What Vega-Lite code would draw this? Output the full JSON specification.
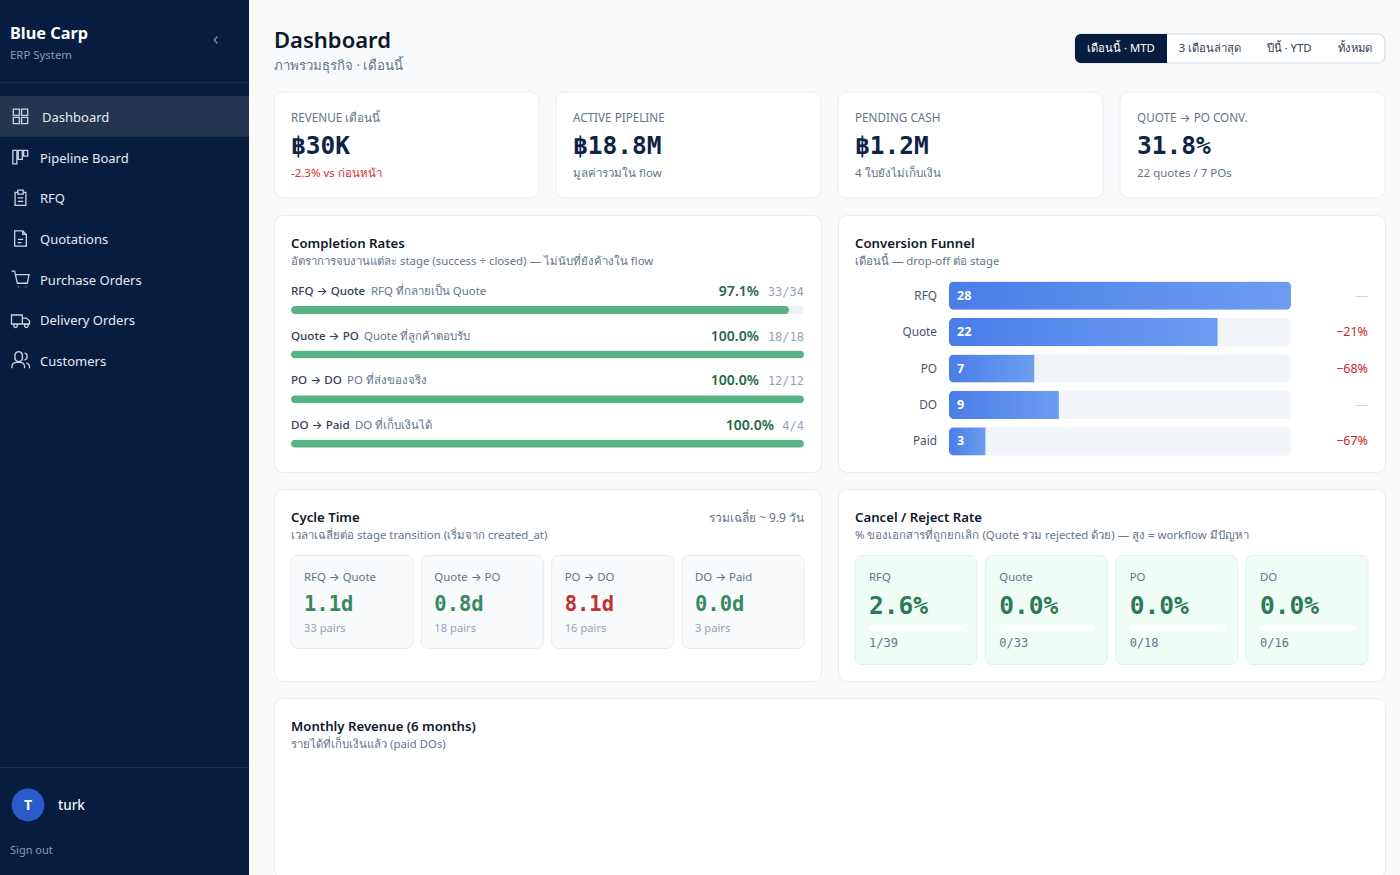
{"$schema":"https://vega.github.io/schema/vega-lite/v6.json","background":"#f8fafc","padding":{"left":0,"top":0,"right":15,"bottom":0},"spacing":24,"resolve":{"scale":{"color":"independent","shape":"independent"}},"config":{"view":{"fill":"#ffffff","stroke":"#e8ecf2","cornerRadius":9,"strokeWidth":1},"text":{"font":"Noto Sans, Inter","baseline":"middle"},"title":{"font":"Noto Sans, Inter","fontSize":13.2,"fontWeight":600,"color":"#0f172a","anchor":"start","frame":"group","subtitleFont":"Noto Sans, Inter","subtitleFontSize":11.4,"subtitleColor":"#64748b","subtitlePadding":4,"dx":17,"offset":-53}},"hconcat":[{"spacing":0,"resolve":{"scale":{"color":"independent","shape":"independent"}},"vconcat":[{"width":249,"height":83,"view":{"fill":"#061d40","stroke":null,"cornerRadius":0},"title":{"text":"Blue Carp","subtitle":"ERP System","fontSize":16.3,"fontWeight":700,"color":"#ffffff","subtitleFontSize":11.4,"subtitleColor":"#8a9ab3","subtitlePadding":7,"dx":10,"offset":-61},"data":{"values":[{"control":"collapse"}]},"layer":[{"mark":{"type":"bar","fill":"#1a3052"},"encoding":{"y":{"field":"control","type":"nominal","axis":null,"scale":{"range":[82,83],"paddingInner":0,"paddingOuter":0}}}},{"mark":{"type":"point","shape":"M0.4 -1 L-0.5 0 L0.4 1","filled":false,"stroke":"#a9b6c9","strokeWidth":1.4,"size":50,"xOffset":91.5,"yOffset":-1.5}}]},{"width":249,"height":685,"view":{"fill":"#061d40","stroke":null,"cornerRadius":0},"data":{"values":[{"item":"Dashboard"},{"item":"Pipeline Board"},{"item":"RFQ"},{"item":"Quotations"},{"item":"Purchase Orders"},{"item":"Delivery Orders"},{"item":"Customers"}]},"encoding":{"y":{"field":"item","type":"nominal","axis":null,"scale":{"domain":["Dashboard","Pipeline Board","RFQ","Quotations","Purchase Orders","Delivery Orders","Customers"],"range":[13,298],"paddingInner":0,"paddingOuter":0}}},"resolve":{"scale":{"y":"independent"}},"layer":[{"transform":[{"filter":{"field":"item","equal":"Dashboard"}}],"mark":{"type":"bar","fill":"#22344f"}},{"transform":[{"filter":{"field":"item","equal":"Dashboard"}}],"mark":{"type":"text","align":"left","dx":-82.5,"dy":1.5,"fontSize":13,"color":"#e6ebf3"},"encoding":{"text":{"field":"item"}}},{"transform":[{"filter":{"field":"item","oneOf":["Pipeline Board","RFQ","Quotations","Purchase Orders","Delivery Orders","Customers"]}}],"mark":{"type":"text","align":"left","dx":-84.5,"dy":1.5,"fontSize":13,"color":"#e6ebf3"},"encoding":{"text":{"field":"item"}}},{"mark":{"type":"point","filled":false,"stroke":"#c9d3e0","strokeWidth":1.3,"opacity":1,"size":324,"xOffset":-104},"encoding":{"shape":{"field":"item","type":"nominal","legend":null,"scale":{"domain":["Dashboard","Pipeline Board","RFQ","Quotations","Purchase Orders","Delivery Orders","Customers"],"range":["M-0.8 -0.8 H-0.12 V-0.12 H-0.8 Z M0.12 -0.8 H0.8 V-0.12 H0.12 Z M-0.8 0.12 H-0.12 V0.8 H-0.8 Z M0.12 0.12 H0.8 V0.8 H0.12 Z","M-0.85 -0.75 H-0.4 V0.75 H-0.85 Z M-0.25 -0.75 H0.2 V0.25 H-0.25 Z M0.35 -0.75 H0.8 V-0.1 H0.35 Z","M-0.3 -0.6 H-0.6 V0.85 H0.6 V-0.6 H0.3 M-0.3 -0.85 H0.3 V-0.4 H-0.3 Z M-0.3 0 H0.3 M-0.3 0.4 H0.3","M-0.65 -0.85 H0.25 L0.65 -0.45 V0.85 H-0.65 Z M0.25 -0.85 V-0.45 H0.65 M-0.3 0.1 H0.3 M-0.3 0.45 H0.1","M-1 -0.9 H-0.65 L-0.35 0.45 H0.75 L0.95 -0.5 H-0.55 M-0.3 0.85 L-0.2 0.85 M0.55 0.85 L0.65 0.85","M-1 -0.55 H0.2 V0.45 H-1 Z M0.2 -0.2 H0.65 L1 0.1 V0.45 H0.2 M-0.75 0.65 A0.2 0.2 0 1 0 -0.35 0.65 A0.2 0.2 0 1 0 -0.75 0.65 Z M0.45 0.65 A0.2 0.2 0 1 0 0.85 0.65 A0.2 0.2 0 1 0 0.45 0.65 Z","M-0.95 0.85 V0.6 A0.5 0.5 0 0 1 -0.45 0.2 H0 A0.5 0.5 0 0 1 0.45 0.6 V0.85 M-0.6 -0.45 A0.42 0.42 0 1 0 0.2 -0.45 A0.42 0.42 0 1 0 -0.6 -0.45 Z M0.45 -0.85 A0.42 0.42 0 0 1 0.45 -0.05 M0.65 0.25 A0.5 0.5 0 0 1 1 0.6 V0.85"]}}}},{"transform":[{"filter":{"field":"item","equal":"Dashboard"}}],"mark":{"type":"bar","fill":"#1a3052"},"encoding":{"y":{"field":"item","type":"nominal","axis":null,"scale":{"domain":["Dashboard"],"range":[684,685],"paddingInner":0,"paddingOuter":0}}}}]},{"width":249,"height":107,"view":{"fill":"#061d40","stroke":null,"cornerRadius":0},"data":{"values":[{"user":"turk","initial":"T","action":"Sign out"}]},"encoding":{"x":{"field":"user","type":"nominal","axis":null,"scale":{"range":[10,46],"paddingInner":0,"paddingOuter":0}},"y":{"field":"user","type":"nominal","axis":null,"scale":{"range":[19,55],"paddingInner":0,"paddingOuter":0}}},"layer":[{"mark":{"type":"circle","fill":"#2a5bc9","opacity":1,"size":1075}},{"mark":{"type":"text","fontSize":14,"fontWeight":700,"dy":1,"color":"#ffffff"},"encoding":{"text":{"field":"initial"}}},{"mark":{"type":"text","align":"left","dx":30,"dy":1,"fontSize":13.5,"fontWeight":500,"color":"#f1f5f9"},"encoding":{"text":{"field":"user"}}},{"mark":{"type":"text","align":"left","dx":-18,"dy":46,"fontSize":11,"color":"#8a9ab3"},"encoding":{"text":{"field":"action"}}}]}]},{"spacing":15,"resolve":{"scale":{"color":"independent","shape":"independent"}},"vconcat":[{"width":1111,"height":76,"view":{"fill":null,"stroke":null},"title":{"text":"Dashboard","subtitle":"ภาพรวมธุรกิจ · เดือนนี้","fontSize":22,"fontWeight":600,"subtitleFontSize":13.2,"subtitlePadding":7,"dx":0,"offset":-73},"data":{"values":[{"tab":"เดือนนี้ · MTD","slot":0,"mid":0.5,"end":1,"state":"active","group":"period"},{"tab":"3 เดือนล่าสุด","slot":1,"mid":1.5,"end":2,"state":"idle","group":"period"},{"tab":"ปีนี้ · YTD","slot":2,"mid":2.5,"end":3,"state":"idle","group":"period"},{"tab":"ทั้งหมด","slot":3,"mid":3.5,"end":4,"state":"idle","group":"period"}]},"encoding":{"y":{"field":"group","type":"nominal","axis":null,"scale":{"range":[34,63],"paddingInner":0,"paddingOuter":0}}},"layer":[{"transform":[{"filter":{"field":"state","equal":"active"}}],"mark":{"type":"bar","fill":"#ffffff","stroke":"#d5dce6","strokeWidth":1.2,"cornerRadius":7},"encoding":{"x":{"datum":0,"type":"quantitative","axis":null,"scale":{"domain":[0,1,2,3,4],"range":[801,893,979,1051,1111]}},"x2":{"datum":4}}},{"transform":[{"filter":{"field":"state","equal":"active"}}],"mark":{"type":"bar","fill":"#061d40","cornerRadiusTopLeft":6,"cornerRadiusBottomLeft":6},"encoding":{"x":{"field":"slot","type":"quantitative","axis":null},"x2":{"field":"end"}}},{"mark":{"type":"text","fontSize":11.3},"encoding":{"x":{"field":"mid","type":"quantitative","axis":null},"text":{"field":"tab"},"color":{"field":"state","type":"nominal","legend":null,"scale":{"domain":["active","idle"],"range":["#ffffff","#334155"]}}}}]},{"width":1111,"height":106,"view":{"fill":null,"stroke":null},"data":{"values":[{"label":"REVENUE เดือนนี้","value":"฿30K","note":"-2.3% vs ก่อนหน้า","tone":"down"},{"label":"ACTIVE PIPELINE","value":"฿18.8M","note":"มูลค่ารวมใน flow","tone":"flat"},{"label":"PENDING CASH","value":"฿1.2M","note":"4 ใบยังไม่เก็บเงิน","tone":"flat"},{"label":"QUOTE → PO CONV.","value":"31.8%","note":"22 quotes / 7 POs","tone":"flat"}]},"encoding":{"x":{"field":"label","type":"nominal","axis":null,"bandPosition":0,"scale":{"domain":["REVENUE เดือนนี้","ACTIVE PIPELINE","PENDING CASH","QUOTE → PO CONV."],"paddingInner":0.0603,"paddingOuter":0}}},"layer":[{"mark":{"type":"bar","fill":"#ffffff","stroke":"#e8ecf2","cornerRadius":9},"encoding":{"x":{"field":"label","type":"nominal","axis":null}}},{"mark":{"type":"text","align":"left","dx":17,"dy":-27,"fontSize":11.7,"color":"#64748b"},"encoding":{"text":{"field":"label"}}},{"mark":{"type":"text","align":"left","dx":17,"dy":1.5,"font":"DejaVu Sans Mono","fontWeight":700,"fontSize":24.5,"color":"#0f2347"},"encoding":{"text":{"field":"value"}}},{"mark":{"type":"text","align":"left","dx":17,"dy":29,"fontSize":11.5},"encoding":{"text":{"field":"note"},"color":{"field":"tone","type":"nominal","legend":null,"scale":{"domain":["down","flat"],"range":["#d32f2f","#64748b"]}}}}]},{"spacing":15,"resolve":{"scale":{"color":"independent"}},"hconcat":[{"width":547,"height":257,"title":{"text":"Completion Rates","subtitle":"อัตราการจบงานแต่ละ stage (success ÷ closed) — ไม่นับที่ยังค้างใน flow"},"data":{"values":[{"stage":"RFQ → Quote","desc":"RFQ ที่กลายเป็น Quote","rate":97.1,"rateLabel":"97.1%","count":"33/34","order":0},{"stage":"Quote → PO","desc":"Quote ที่ลูกค้าตอบรับ","rate":100,"rateLabel":"100.0%","count":"18/18","order":1},{"stage":"PO → DO","desc":"PO ที่ส่งของจริง","rate":100,"rateLabel":"100.0%","count":"12/12","order":2},{"stage":"DO → Paid","desc":"DO ที่เก็บเงินได้","rate":100,"rateLabel":"100.0%","count":"4/4","order":3}]},"encoding":{"y":{"field":"stage","type":"nominal","axis":null,"scale":{"domain":["RFQ → Quote","Quote → PO","PO → DO","DO → Paid"],"range":[72.7,251.1],"paddingInner":0,"paddingOuter":0}}},"resolve":{"scale":{"x":"independent"}},"layer":[{"mark":{"type":"bar","height":8,"fill":"#eef2f6","cornerRadius":4},"encoding":{"x":{"datum":0,"type":"quantitative","axis":null,"scale":{"domain":[0,100],"range":[17,530]}},"x2":{"datum":100}}},{"mark":{"type":"bar","height":8,"fill":"#55b384","cornerRadius":4},"encoding":{"x":{"field":"rate","type":"quantitative","axis":null,"scale":{"domain":[0,100],"range":[17,530]}}}},{"mark":{"type":"text","align":"left","dy":-18,"fontSize":11.6,"fontWeight":500,"color":"#334155"},"encoding":{"x":{"datum":0,"type":"quantitative","axis":null,"scale":{"domain":[0,100],"range":[17,530]}},"text":{"field":"stage"}}},{"mark":{"type":"text","align":"left","dy":-18,"fontSize":11.4,"color":"#64748b"},"encoding":{"x":{"field":"order","type":"quantitative","axis":null,"scale":{"domain":[0,1,2,3],"range":[97,90,73,81]}},"text":{"field":"desc"}}},{"mark":{"type":"text","align":"right","dy":-18,"fontSize":14,"fontWeight":600,"color":"#276749"},"encoding":{"x":{"field":"order","type":"quantitative","axis":null,"scale":{"domain":[0,1,2,3],"range":[485,485,485,500]}},"text":{"field":"rateLabel"}}},{"mark":{"type":"text","align":"right","dy":-18,"font":"DejaVu Sans Mono","fontSize":12,"color":"#94a3b8"},"encoding":{"x":{"datum":100,"type":"quantitative","axis":null,"scale":{"domain":[0,100],"range":[17,530]}},"text":{"field":"count"}}}]},{"width":547,"height":257,"title":{"text":"Conversion Funnel","subtitle":"เดือนนี้ — drop-off ต่อ stage"},"data":{"values":[{"stage":"RFQ","total":28,"drop":"—","tone":"none"},{"stage":"Quote","total":22,"drop":"−21%","tone":"down"},{"stage":"PO","total":7,"drop":"−68%","tone":"down"},{"stage":"DO","total":9,"drop":"—","tone":"none"},{"stage":"Paid","total":3,"drop":"−67%","tone":"down"}]},"encoding":{"y":{"field":"stage","type":"nominal","axis":null,"scale":{"domain":["RFQ","Quote","PO","DO","Paid"],"range":[66.5,240.5],"paddingInner":0.225,"paddingOuter":0}}},"layer":[{"mark":{"type":"bar","fill":"#f1f4f9","cornerRadius":5},"encoding":{"x":{"datum":0,"type":"quantitative","axis":null,"scale":{"domain":[0,28],"range":[111,453]}},"x2":{"datum":28}}},{"transform":[{"filter":{"field":"stage","oneOf":["Quote","PO","DO","Paid"]}}],"mark":{"type":"bar","cornerRadiusTopLeft":5,"cornerRadiusBottomLeft":5,"fill":{"x1":0,"y1":0,"x2":1,"y2":0,"gradient":"linear","stops":[{"offset":0,"color":"#4a7de8"},{"offset":1,"color":"#6d9df1"}]}},"encoding":{"x":{"field":"total","type":"quantitative","axis":null,"scale":{"domain":[0,28],"range":[111,453]}}}},{"transform":[{"filter":{"field":"stage","equal":"RFQ"}}],"mark":{"type":"bar","cornerRadius":5,"fill":{"x1":0,"y1":0,"x2":1,"y2":0,"gradient":"linear","stops":[{"offset":0,"color":"#4a7de8"},{"offset":1,"color":"#6d9df1"}]}},"encoding":{"x":{"field":"total","type":"quantitative","axis":null,"scale":{"domain":[0,28],"range":[111,453]}}}},{"mark":{"type":"text","align":"right","dx":-12,"fontSize":11.8,"color":"#475569"},"encoding":{"x":{"datum":0,"type":"quantitative","axis":null,"scale":{"domain":[0,28],"range":[111,453]}},"text":{"field":"stage"}}},{"mark":{"type":"text","align":"left","dx":8,"fontSize":12.5,"fontWeight":700,"color":"#ffffff"},"encoding":{"x":{"datum":0,"type":"quantitative","axis":null,"scale":{"domain":[0,28],"range":[111,453]}},"text":{"field":"total"}}},{"mark":{"type":"text","align":"right","dx":77,"fontSize":12.5},"encoding":{"x":{"datum":28,"type":"quantitative","axis":null,"scale":{"domain":[0,28],"range":[111,453]}},"text":{"field":"drop"},"color":{"field":"tone","type":"nominal","legend":null,"scale":{"domain":["down","none"],"range":["#c62828","#cbd5e1"]}}}}]}]},{"spacing":15,"resolve":{"scale":{"color":"independent"}},"hconcat":[{"width":547,"height":192,"title":{"text":"Cycle Time","subtitle":"เวลาเฉลี่ยต่อ stage transition (เริ่มจาก created_at)"},"data":{"values":[{"stage":"RFQ → Quote","days":"1.1d","pairs":"33 pairs","tone":"fast","panel":"cycle","summary":"รวมเฉลี่ย ~ 9.9  วัน"},{"stage":"Quote → PO","days":"0.8d","pairs":"18 pairs","tone":"fast","panel":"cycle","summary":"รวมเฉลี่ย ~ 9.9  วัน"},{"stage":"PO → DO","days":"8.1d","pairs":"16 pairs","tone":"slow","panel":"cycle","summary":"รวมเฉลี่ย ~ 9.9  วัน"},{"stage":"DO → Paid","days":"0.0d","pairs":"3 pairs","tone":"fast","panel":"cycle","summary":"รวมเฉลี่ย ~ 9.9  วัน"}]},"encoding":{"x":{"field":"stage","type":"nominal","axis":null,"bandPosition":0,"scale":{"domain":["RFQ → Quote","Quote → PO","PO → DO","DO → Paid"],"range":[17,530],"paddingInner":0.064,"paddingOuter":0}},"y":{"field":"panel","type":"nominal","axis":null,"bandPosition":0,"scale":{"range":[66.5,159.5],"paddingInner":0,"paddingOuter":0}}},"layer":[{"mark":{"type":"bar","fill":"#f8fafc","stroke":"#e6eaf0","cornerRadius":7},"encoding":{"x":{"field":"stage","type":"nominal","axis":null},"y":{"field":"panel","type":"nominal","axis":null}}},{"mark":{"type":"text","align":"left","dx":13,"dy":22.5,"fontSize":11.4,"color":"#64748b"},"encoding":{"text":{"field":"stage"}}},{"mark":{"type":"text","align":"left","dx":13,"dy":49.5,"font":"DejaVu Sans Mono","fontWeight":700,"fontSize":20.5},"encoding":{"text":{"field":"days"},"color":{"field":"tone","type":"nominal","legend":null,"scale":{"domain":["fast","slow"],"range":["#38895f","#c53030"]}}}},{"mark":{"type":"text","align":"left","dx":13,"dy":73.5,"fontSize":11.2,"color":"#94a3b8"},"encoding":{"text":{"field":"pairs"}}},{"transform":[{"filter":{"field":"stage","equal":"DO → Paid"}}],"mark":{"type":"text","align":"right","dx":122,"dy":-37.5,"fontSize":12,"color":"#64748b"},"encoding":{"text":{"field":"summary"}}}]},{"width":547,"height":192,"title":{"text":"Cancel / Reject Rate","subtitle":"% ของเอกสารที่ถูกยกเลิก (Quote รวม rejected ด้วย) — สูง = workflow มีปัญหา"},"data":{"values":[{"stage":"RFQ","rate":2.6,"rateLabel":"2.6%","count":"1/39","panel":"cancel"},{"stage":"Quote","rate":0,"rateLabel":"0.0%","count":"0/33","panel":"cancel"},{"stage":"PO","rate":0,"rateLabel":"0.0%","count":"0/18","panel":"cancel"},{"stage":"DO","rate":0,"rateLabel":"0.0%","count":"0/16","panel":"cancel"}]},"encoding":{"x":{"field":"stage","type":"nominal","axis":null,"bandPosition":0,"scale":{"type":"band","domain":["RFQ","Quote","PO","DO"],"range":[17,530],"paddingInner":0.064,"paddingOuter":0}},"y":{"field":"panel","type":"nominal","axis":null,"bandPosition":0,"scale":{"range":[66.5,175.5],"paddingInner":0,"paddingOuter":0}}},"resolve":{"scale":{"x":"independent"}},"layer":[{"mark":{"type":"bar","fill":"#f0fdf6","stroke":"#dff2e7","cornerRadius":7},"encoding":{"x":{"field":"stage","type":"nominal","axis":null,"scale":{"type":"band","domain":["RFQ","Quote","PO","DO"],"range":[17,530],"paddingInner":0.064,"paddingOuter":0}},"y":{"field":"panel","type":"nominal","axis":null}}},{"mark":{"type":"bar","width":96,"height":5,"fill":"#ffffff","cornerRadius":2.5,"xOffset":1,"yOffset":18},"encoding":{"x":{"field":"stage","type":"nominal","axis":null,"scale":{"type":"band","domain":["RFQ","Quote","PO","DO"],"range":[17,530],"paddingInner":0.064,"paddingOuter":0}},"y":{"field":"panel","type":"nominal","axis":null}}},{"transform":[{"filter":{"field":"rate","gt":0}}],"mark":{"type":"bar","height":5,"fill":"#38895f","cornerRadius":1,"yOffset":18},"encoding":{"x":{"field":"rate","type":"quantitative","axis":null,"scale":{"domain":[0,100],"range":[31,127]}},"y":{"field":"panel","type":"nominal","axis":null}}},{"mark":{"type":"text","align":"left","dx":14,"dy":22.5,"fontSize":11.4,"color":"#64748b"},"encoding":{"text":{"field":"stage"}}},{"mark":{"type":"text","align":"left","dx":14,"dy":51.5,"font":"DejaVu Sans Mono","fontWeight":700,"fontSize":24.5,"color":"#2c7a57"},"encoding":{"text":{"field":"rateLabel"}}},{"mark":{"type":"text","align":"left","dx":14,"dy":87.5,"font":"DejaVu Sans Mono","fontSize":12,"color":"#64748b"},"encoding":{"text":{"field":"count"}}}]}]},{"width":1111,"height":180,"title":{"text":"Monthly Revenue (6 months)","subtitle":"รายได้ที่เก็บเงินแล้ว (paid DOs)"},"data":{"values":[]},"mark":"bar","encoding":{"x":{"field":"month","type":"nominal","axis":null},"y":{"field":"revenue","type":"quantitative","axis":null}}}]}]}
